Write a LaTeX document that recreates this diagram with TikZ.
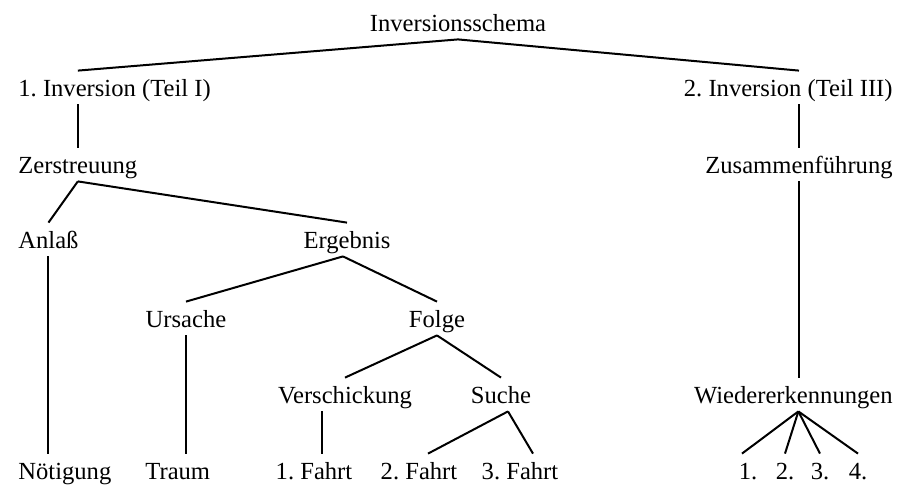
\documentclass[tikz,border=0pt]{standalone}
\usepackage{fontspec}
\setmainfont{Liberation Serif}
\frenchspacing
\begin{document}
\begin{tikzpicture}[x=0.5pt,y=-0.5pt,
    every node/.style={font=\fontsize{12.3}{14}\selectfont, anchor=base,
      inner xsep=0pt, inner ysep=3pt, text height=9.5pt, text depth=1pt}]
  \useasboundingbox (0,0) rectangle (902,484);
  \draw
    (458,31) node (top){Inversionsschema}
    (18,96) node[anchor=base west] (inv1){1. Inversion (Teil I)}
    (893,96) node[anchor=base east] (inv2){2. Inversion (Teil III)}
    (18,173) node[anchor=base west] (zer){Zerstreuung}
    (893,173) node[anchor=base east] (zus){Zusammenführung}
    (18,248) node[anchor=base west] (anl){Anlaß}
    (347,248) node (erg){Ergebnis}
    (186,327) node (urs){Ursache}
    (437,327) node (fol){Folge}
    (345,403) node (ver){Verschickung}
    (501,403) node (suc){Suche}
    (893,403) node[anchor=base east] (wie){Wiedererkennungen}
    (18,479) node[anchor=base west] (noe){Nötigung}
    (145,479) node[anchor=base west] (tra){Traum}
    (314,479) node (f1){1. Fahrt}
    (419,479) node (f2){2. Fahrt}
    (520,479) node (f3){3. Fahrt}
    (748,479) node (w1){1.}
    (785,479) node (w2){2.}
    (820,479) node (w3){3.}
    (858,479) node (w4){4.};
  \begin{scope}[line width=1pt]
    \draw (top.south) to (inv1.north -| zer.north);
    \draw (top.south) to (inv2.north -| zus.north);
    \draw (inv1.south -| zer.north) to (zer.north);
    \draw (inv2.south -| zus.north) to (zus.north);
    \draw (zer.south) to (anl.north);
    \draw (zer.south) to (erg.north);
    \draw (anl.south) to (anl.south |- noe.north);
    \draw ([xshift=-2pt]erg.south) to (urs.north);
    \draw ([xshift=-2pt]erg.south) to (fol.north);
    \draw (urs.south) to (urs.south |- tra.north);
    \draw (fol.south) to (ver.north);
    \draw (fol.south) to (suc.north);
    \draw ([xshift=-11.5pt]ver.south) to ([xshift=4pt]f1.north);
    \draw ([xshift=3.5pt]suc.south) to ([xshift=4.5pt]f2.north);
    \draw ([xshift=3.5pt]suc.south) to ([xshift=6.5pt]f3.north);
    \draw (zus.south) to (wie.north -| zus.south);
    \draw ([xshift=2.5pt]wie.south) to ([xshift=-3pt]w1.north);
    \foreach \n in {w2,w3,w4}
      \draw ([xshift=2.5pt]wie.south) to (\n.north);
  \end{scope}
\end{tikzpicture}
\end{document}
